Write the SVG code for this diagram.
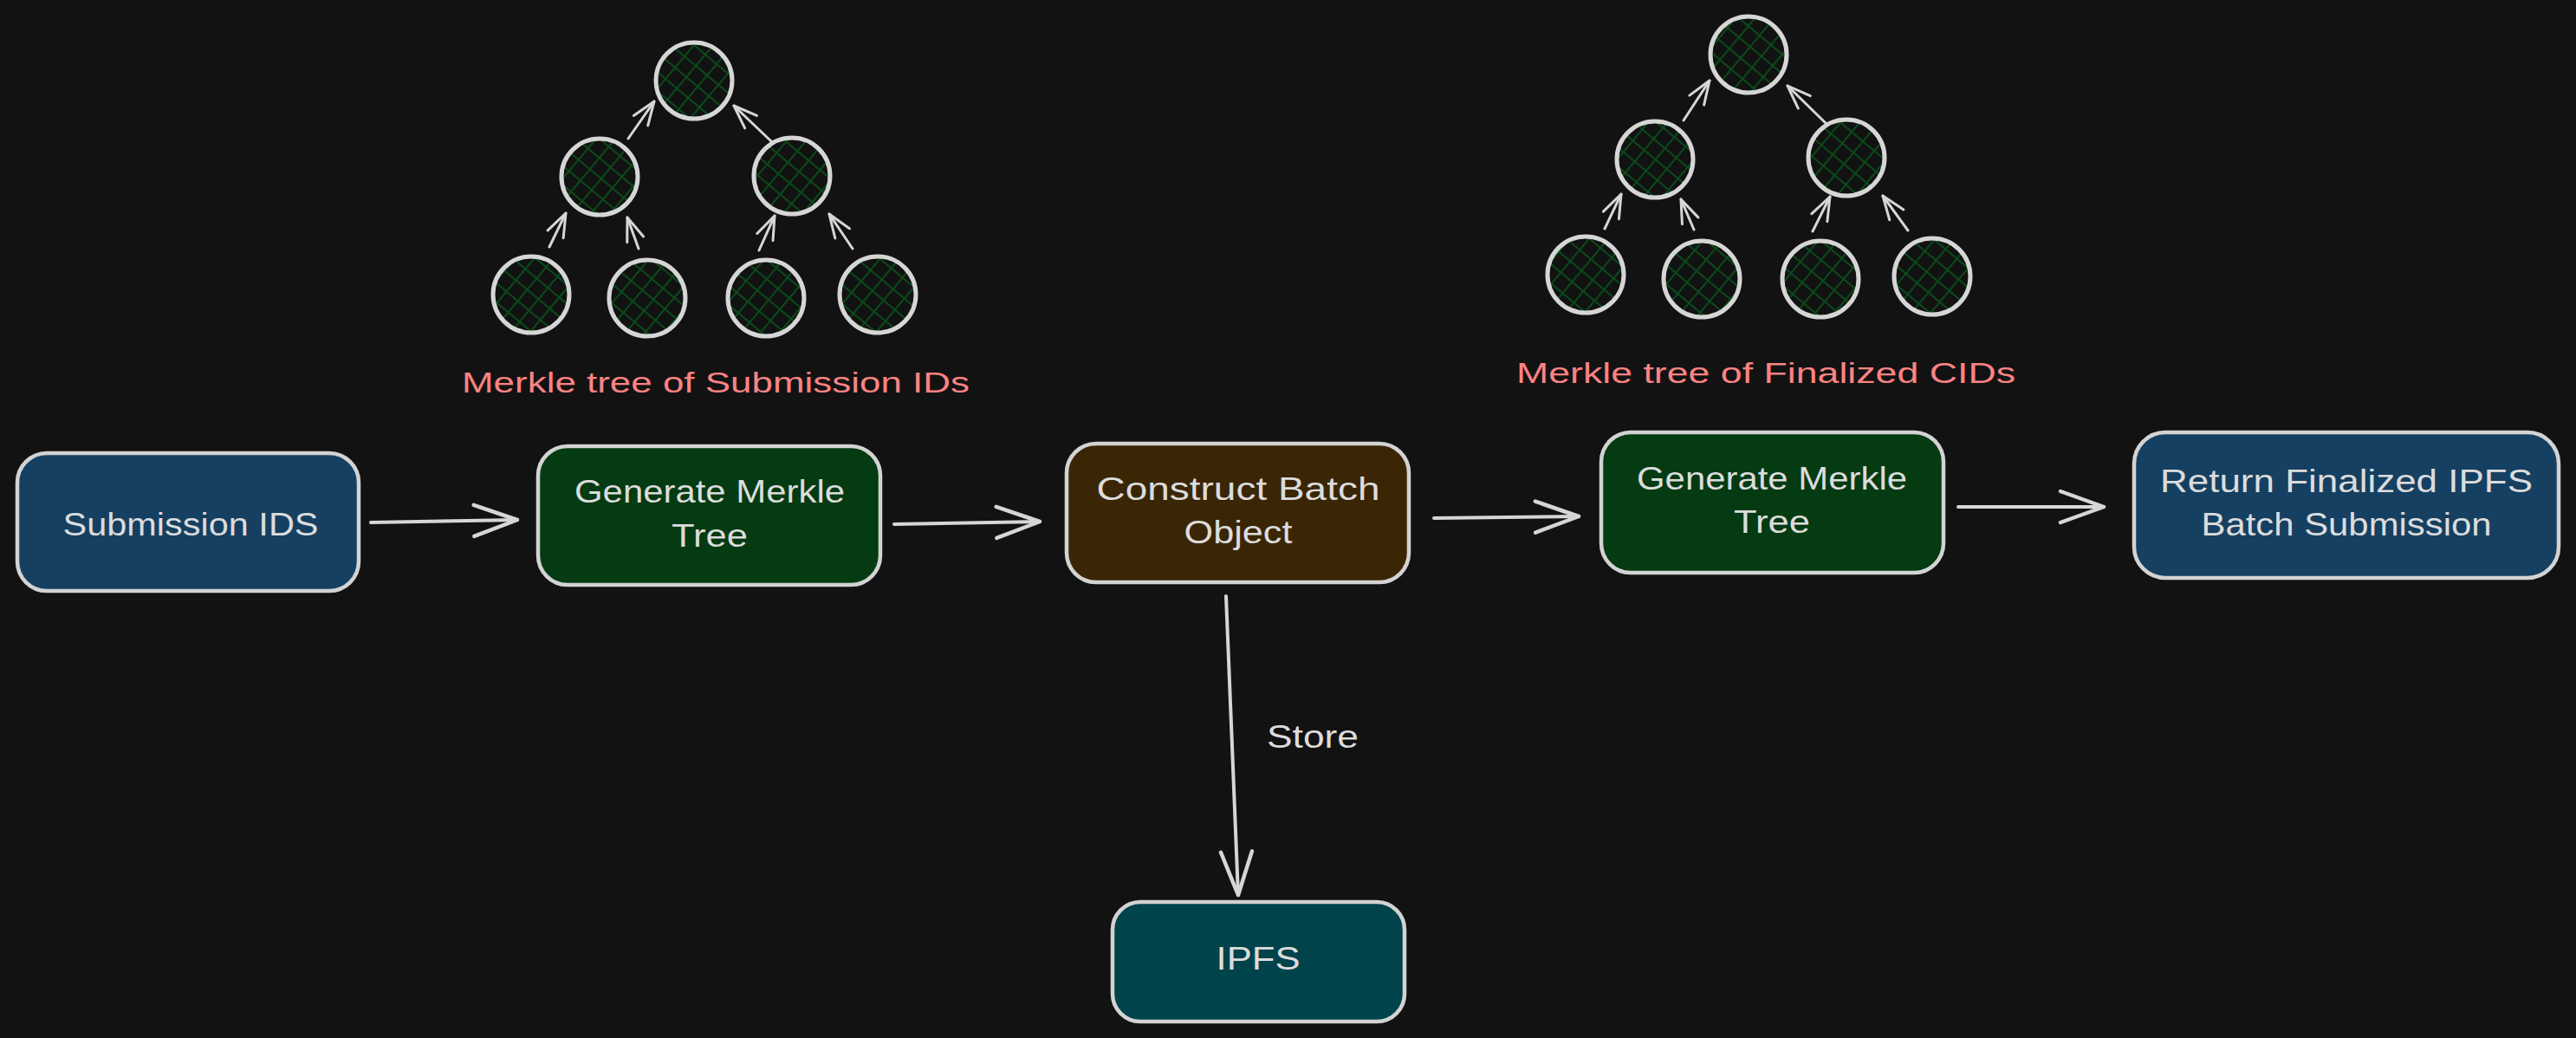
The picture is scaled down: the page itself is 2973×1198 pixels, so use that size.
<svg xmlns="http://www.w3.org/2000/svg" width="2973" height="1198" viewBox="0 0 2973 1198">
<style>
.bg{fill:#121212}
.box{stroke:#d3d3d3;stroke-width:4.5}
.blue{fill:#164061}
.green{fill:#043b12}
.brown{fill:#3a2605}
.teal{fill:#01434a}
.t{font-family:"Liberation Sans","DejaVu Sans",sans-serif;font-size:36px;fill:#dcdcdc;text-anchor:middle}
.lbl{font-family:"Liberation Sans","DejaVu Sans",sans-serif;font-size:34px;fill:#fa8383;text-anchor:middle}
.node{fill:url(#hatch);stroke:#d6d6d6;stroke-width:5}
.conn{stroke:#d6d6d6;stroke-width:4;fill:none;stroke-linecap:round}
.tconn{stroke:#d6d6d6;stroke-width:3;fill:none;stroke-linecap:round}
</style>
<defs>
<pattern id="hatch" patternUnits="userSpaceOnUse" width="17" height="17" patternTransform="rotate(40)">
<rect width="17" height="17" fill="#121212"/>
<line x1="0" y1="0" x2="0" y2="17" stroke="#0a4a1a" stroke-width="4"/>
<line x1="0" y1="0" x2="17" y2="0" stroke="#0a4a1a" stroke-width="4"/>
</pattern>
<marker id="ah" markerUnits="userSpaceOnUse" markerWidth="56" markerHeight="44" viewBox="0 0 56 44" refX="52" refY="22" orient="auto" overflow="visible">
<path d="M2,4 L52,22 L2,40" fill="none" stroke="#d6d6d6" stroke-width="4.5" stroke-linecap="round" stroke-linejoin="round"/>
</marker>
<marker id="ahs" markerUnits="userSpaceOnUse" markerWidth="32" markerHeight="26" viewBox="0 0 32 26" refX="29" refY="13" orient="auto" overflow="visible">
<path d="M2,3 L29,13 L2,23" fill="none" stroke="#d6d6d6" stroke-width="3" stroke-linecap="round" stroke-linejoin="round"/>
</marker>
</defs>
<rect class="bg" x="0" y="0" width="2973" height="1198"/>

<g id="tree-submission">
<g id="t1-root"><circle class="node" cx="801" cy="93" r="44"/></g>
<g id="t1-ml"><circle class="node" cx="692" cy="204" r="44"/></g>
<g id="t1-mr"><circle class="node" cx="914" cy="203" r="44"/></g>
<g id="t1-l1"><circle class="node" cx="613" cy="340" r="44"/></g>
<g id="t1-l2"><circle class="node" cx="747" cy="344" r="44"/></g>
<g id="t1-l3"><circle class="node" cx="884" cy="344" r="44"/></g>
<g id="t1-l4"><circle class="node" cx="1013" cy="340" r="44"/></g>
<g id="t1-label"><text class="lbl" x="826" y="453" textLength="586" lengthAdjust="spacingAndGlyphs">Merkle tree of Submission IDs</text></g>
</g>

<g id="tree-finalized">
<g id="t2-root"><circle class="node" cx="2018" cy="63" r="44"/></g>
<g id="t2-ml"><circle class="node" cx="1910" cy="184" r="44"/></g>
<g id="t2-mr"><circle class="node" cx="2131" cy="182" r="44"/></g>
<g id="t2-l1"><circle class="node" cx="1830" cy="317" r="44"/></g>
<g id="t2-l2"><circle class="node" cx="1964" cy="322" r="44"/></g>
<g id="t2-l3"><circle class="node" cx="2101" cy="322" r="44"/></g>
<g id="t2-l4"><circle class="node" cx="2230" cy="319" r="44"/></g>
<g id="t2-label"><text class="lbl" x="2038" y="442" textLength="576" lengthAdjust="spacingAndGlyphs">Merkle tree of Finalized CIDs</text></g>
</g>

<g id="connectors">
<line class="tconn" x1="725" y1="160" x2="755" y2="117" marker-end="url(#ahs)"/>
<line class="tconn" x1="890" y1="163" x2="847" y2="122" marker-end="url(#ahs)"/>
<line class="tconn" x1="634" y1="285" x2="653" y2="246" marker-end="url(#ahs)"/>
<line class="tconn" x1="737" y1="287" x2="724" y2="251" marker-end="url(#ahs)"/>
<line class="tconn" x1="876" y1="289" x2="894" y2="249" marker-end="url(#ahs)"/>
<line class="tconn" x1="984" y1="287" x2="957" y2="247" marker-end="url(#ahs)"/>
<line class="tconn" x1="1943" y1="139" x2="1973" y2="93" marker-end="url(#ahs)"/>
<line class="tconn" x1="2107" y1="142" x2="2063" y2="99" marker-end="url(#ahs)"/>
<line class="tconn" x1="1852" y1="264" x2="1871" y2="224" marker-end="url(#ahs)"/>
<line class="tconn" x1="1955" y1="265" x2="1940" y2="230" marker-end="url(#ahs)"/>
<line class="tconn" x1="2092" y1="267" x2="2112" y2="227" marker-end="url(#ahs)"/>
<line class="tconn" x1="2202" y1="266" x2="2173" y2="226" marker-end="url(#ahs)"/>

<line class="conn" x1="428" y1="603" x2="597" y2="600" marker-end="url(#ah)"/>
<line class="conn" x1="1032" y1="605" x2="1200" y2="602" marker-end="url(#ah)"/>
<line class="conn" x1="1655" y1="598" x2="1822" y2="596" marker-end="url(#ah)"/>
<line class="conn" x1="2260" y1="585" x2="2428" y2="585" marker-end="url(#ah)"/>
<line class="conn" x1="1415" y1="688" x2="1429" y2="1033" marker-end="url(#ah)"/>
<text class="t" x="1515" y="863" textLength="106" lengthAdjust="spacingAndGlyphs">Store</text>
</g>

<g id="submission-ids">
<rect class="box blue" x="20" y="523" width="394" height="159" rx="34"/>
<text class="t" x="220" y="618" textLength="295" lengthAdjust="spacingAndGlyphs">Submission IDS</text>
</g>

<g id="generate-merkle-1">
<rect class="box green" x="621" y="515" width="395" height="160" rx="34"/>
<text class="t" x="819" y="580" textLength="312" lengthAdjust="spacingAndGlyphs">Generate Merkle</text>
<text class="t" x="819" y="631" textLength="88" lengthAdjust="spacingAndGlyphs">Tree</text>
</g>

<g id="construct-batch">
<rect class="box brown" x="1231" y="512" width="395" height="160" rx="34"/>
<text class="t" x="1429" y="577" textLength="327" lengthAdjust="spacingAndGlyphs">Construct Batch</text>
<text class="t" x="1429" y="627" textLength="125" lengthAdjust="spacingAndGlyphs">Object</text>
</g>

<g id="generate-merkle-2">
<rect class="box green" x="1848" y="499" width="395" height="162" rx="34"/>
<text class="t" x="2045" y="565" textLength="312" lengthAdjust="spacingAndGlyphs">Generate Merkle</text>
<text class="t" x="2045" y="615" textLength="88" lengthAdjust="spacingAndGlyphs">Tree</text>
</g>

<g id="return-finalized">
<rect class="box blue" x="2463" y="499" width="490" height="168" rx="36"/>
<text class="t" x="2708" y="568" textLength="430" lengthAdjust="spacingAndGlyphs">Return Finalized IPFS</text>
<text class="t" x="2708" y="618" textLength="335" lengthAdjust="spacingAndGlyphs">Batch Submission</text>
</g>

<g id="ipfs">
<rect class="box teal" x="1284" y="1041" width="337" height="138" rx="32"/>
<text class="t" x="1452" y="1119" textLength="97" lengthAdjust="spacingAndGlyphs">IPFS</text>
</g>
</svg>
